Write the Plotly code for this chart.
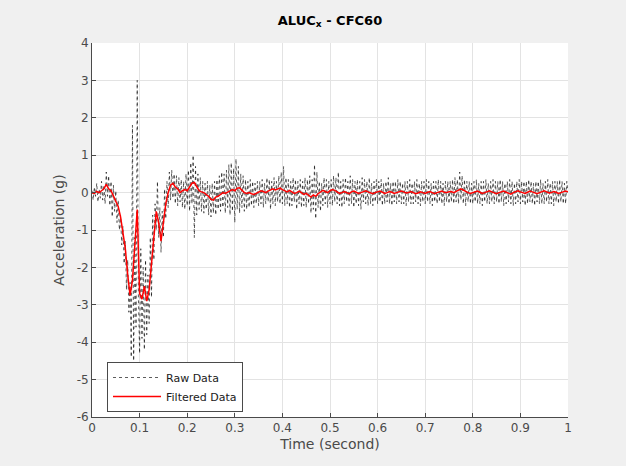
import numpy as np
import plotly.graph_objects as go

# Raw acceleration samples (g), sampled every 0.0025 s from 0 to 1 s
raw_data = [
    0.05,-0.20,0.15,-0.10,0.25,-0.25,0.10,-0.15,0.30,-0.20,0.20,-0.30,0.55,-0.10,0.45,-0.35,0.30,-0.65,0.20,-0.50,
    0.05,-0.80,-0.20,-1.00,-0.60,-1.40,-0.90,-1.90,-1.30,-2.60,-1.80,-3.20,-2.40,-4.40,1.80,-4.50,-1.20,-3.60,3.00,-2.80,
    -4.30,-1.50,-3.90,-2.00,-4.20,-1.80,-3.80,-2.20,-3.50,-1.20,-2.80,-0.60,-1.80,-0.30,-1.00,0.30,-1.20,-0.40,-1.60,-0.50,
    -1.20,0.10,-0.70,0.30,-0.40,0.55,-0.20,0.60,-0.15,0.50,-0.30,0.45,-0.35,0.40,-0.25,0.35,-0.40,0.30,-0.45,0.50,
    -0.35,0.60,-0.50,0.80,-0.30,1.00,-1.20,0.70,-0.60,0.50,-0.45,0.40,-0.50,0.30,-0.55,0.25,-0.45,0.30,-0.60,0.20,
    -0.65,0.25,-0.55,0.30,-0.60,0.35,-0.45,0.45,-0.50,0.55,-0.40,0.50,-0.55,0.60,-0.40,0.75,-0.60,0.80,-0.50,0.65,
    -0.80,0.90,-0.45,0.70,-0.55,0.50,-0.40,0.45,-0.50,0.35,-0.45,0.30,-0.40,0.35,-0.35,0.30,-0.40,0.25,-0.30,0.30,
    -0.35,0.30,-0.30,0.35,-0.40,0.25,-0.30,0.40,-0.25,0.35,-0.45,0.30,-0.30,0.40,-0.35,0.30,-0.25,0.45,-0.30,0.55,
    -0.30,0.70,-0.35,0.40,-0.30,0.35,-0.40,0.30,-0.35,0.40,-0.25,0.35,-0.45,0.30,-0.30,0.35,-0.40,0.30,-0.35,0.40,
    -0.40,0.35,-0.30,0.45,-0.55,0.35,-0.45,0.75,-0.70,0.55,-0.40,0.30,-0.50,0.25,-0.35,0.40,-0.30,0.35,-0.40,0.30,
    -0.30,0.35,-0.35,0.45,-0.25,0.40,-0.30,0.55,-0.35,0.30,-0.40,0.35,-0.30,0.40,-0.25,0.30,-0.35,0.45,-0.30,0.35,
    -0.40,0.30,-0.30,0.35,-0.35,0.30,-0.45,0.40,-0.25,0.35,-0.30,0.30,-0.35,0.40,-0.30,0.25,-0.35,0.30,-0.25,0.35,
    -0.30,0.30,-0.25,0.35,-0.35,0.25,-0.30,0.30,-0.25,0.40,-0.30,0.25,-0.35,0.30,-0.25,0.30,-0.30,0.35,-0.25,0.30,
    -0.30,0.25,-0.30,0.30,-0.35,0.30,-0.25,0.35,-0.30,0.25,-0.30,0.30,-0.25,0.35,-0.30,0.25,-0.35,0.30,-0.25,0.30,
    -0.30,0.35,-0.25,0.30,-0.30,0.25,-0.35,0.30,-0.25,0.30,-0.30,0.35,-0.25,0.30,-0.30,0.25,-0.35,0.30,-0.25,0.30,
    -0.30,0.30,-0.25,0.35,-0.30,0.40,-0.25,0.35,-0.30,0.55,-0.20,0.45,-0.30,0.35,-0.35,0.30,-0.25,0.30,-0.30,0.25,
    -0.30,0.30,-0.25,0.35,-0.30,0.25,-0.30,0.30,-0.35,0.30,-0.25,0.35,-0.30,0.25,-0.30,0.30,-0.25,0.35,-0.30,0.30,
    -0.25,0.30,-0.30,0.35,-0.25,0.30,-0.35,0.25,-0.30,0.30,-0.25,0.35,-0.30,0.30,-0.35,0.25,-0.30,0.30,-0.25,0.35,
    -0.30,0.30,-0.25,0.30,-0.35,0.30,-0.30,0.35,-0.25,0.30,-0.30,0.25,-0.35,0.30,-0.25,0.30,-0.30,0.35,-0.30,0.25,
    -0.30,0.30,-0.25,0.35,-0.30,0.25,-0.30,0.30,-0.35,0.30,-0.25,0.30,-0.30,0.35,-0.25,0.30,-0.30,0.25,-0.30,0.30,
    0.00,
]

# CFC60 filtered acceleration (g), sampled every 0.005 s from 0 to 1 s
filtered_data = [
    0.00,-0.02,0.03,0.00,0.05,0.10,0.22,0.10,0.05,-0.10,
    -0.25,-0.37,-0.65,-1.05,-1.50,-2.20,-2.75,-2.35,-1.40,-0.45,
    -2.70,-2.85,-2.50,-2.90,-2.60,-1.90,-1.30,-0.50,-0.80,-1.30,
    -0.80,-0.30,0.00,0.20,0.25,0.15,0.10,0.00,0.05,0.08,
    0.05,0.15,0.25,0.27,0.15,0.05,0.02,0.00,-0.05,-0.10,
    -0.18,-0.20,-0.12,-0.10,-0.05,0.00,-0.02,0.02,0.05,0.08,
    0.05,0.12,0.13,0.05,0.00,-0.02,0.00,-0.03,-0.05,-0.02,
    0.02,0.05,0.03,0.00,0.04,0.08,0.10,0.07,0.10,0.12,
    0.08,0.05,0.02,0.06,0.03,-0.02,0.00,0.04,0.00,-0.05,
    -0.02,-0.08,-0.12,-0.06,-0.10,-0.03,0.02,0.06,0.03,0.00,
    0.05,0.08,0.06,0.02,-0.02,0.00,0.03,0.00,-0.03,0.02,
    0.04,0.01,-0.02,0.00,0.03,0.05,0.02,0.00,-0.03,0.00,
    0.02,0.04,0.01,-0.02,0.00,0.03,0.01,-0.02,0.00,0.02,
    0.04,0.02,-0.01,0.00,0.03,0.00,-0.03,-0.01,0.02,0.00,
    -0.02,0.01,0.03,0.00,-0.03,0.00,0.02,0.04,0.01,0.00,
    0.02,0.03,0.00,0.04,0.06,0.10,0.07,0.03,0.00,-0.02,
    0.00,0.02,0.04,0.01,-0.02,0.00,0.03,0.05,0.02,0.00,
    -0.03,0.00,0.02,0.04,0.01,-0.02,-0.04,0.00,0.03,0.05,
    0.02,0.00,-0.02,0.01,0.04,0.02,0.00,-0.03,0.00,0.03,
    0.05,0.02,-0.01,0.00,0.03,0.01,-0.02,0.00,0.02,0.04,
    0.02,
]

raw_time = np.linspace(0, 1, len(raw_data))
filtered_time = np.linspace(0, 1, len(filtered_data))

x_ticks = [0, 0.1, 0.2, 0.3, 0.4, 0.5, 0.6, 0.7, 0.8, 0.9, 1]
x_tick_labels = ["0", "0.1", "0.2", "0.3", "0.4", "0.5", "0.6", "0.7", "0.8", "0.9", "1"]
y_ticks = [-6, -5, -4, -3, -2, -1, 0, 1, 2, 3, 4]
y_tick_labels = ["-6", "-5", "-4", "-3", "-2", "-1", "0", "1", "2", "3", "4"]

FONT = "DejaVu Sans, Liberation Sans, Arial, sans-serif"
AX = "#4a4a4a"

fig = go.Figure()
fig.add_trace(go.Scatter(
    x=raw_time, y=raw_data, mode="lines", name="Raw Data",
    line=dict(color="rgba(0,0,0,0.8)", width=0.8, dash="dot"),
))
fig.add_trace(go.Scatter(
    x=filtered_time, y=filtered_data, mode="lines", name="Filtered Data",
    line=dict(color="#ff0000", width=1.5),
))

fig.update_layout(
    width=626, height=466,
    margin=dict(l=92, r=58, t=43, b=49),
    paper_bgcolor="#f0f0f0",
    plot_bgcolor="#ffffff",
    font=dict(family=FONT, size=11, color=AX),
    title=dict(text="<b>ALUC<sub>x</sub> - CFC60</b>", x=330/626, xanchor="center",
               y=1 - 20/466, yanchor="middle", font=dict(size=13, color="#000000")),
    showlegend=True,
    legend=dict(x=15/476, y=(417 - 362) / 374, xanchor="left", yanchor="top",
                bgcolor="#ffffff", bordercolor=AX, borderwidth=1,
                font=dict(size=11, color="#202020"), tracegroupgap=0,
                itemwidth=48),
)
fig.update_xaxes(
    range=[0, 1], tickvals=x_ticks, ticktext=x_tick_labels,
    ticks="inside", ticklen=4, tickcolor=AX, tickfont=dict(size=12),
    showline=True, linecolor=AX, linewidth=1, mirror=False,
    showgrid=True, gridcolor="#e3e3e3", gridwidth=1, zeroline=False,
    title=dict(text="Time (second)", font=dict(size=14, color=AX), standoff=4),
)
fig.update_yaxes(
    range=[-6, 4], tickvals=y_ticks, ticktext=y_tick_labels,
    ticks="inside", ticklen=4, tickcolor=AX, tickfont=dict(size=12),
    showline=True, linecolor=AX, linewidth=1, mirror=False,
    showgrid=True, gridcolor="#e3e3e3", gridwidth=1, zeroline=False,
    title=dict(text="Acceleration (g)", font=dict(size=14, color=AX), standoff=8),
)

fig.write_html("out.html", config={"displayModeBar": False},
               post_script="document.body.style.margin='0px';")
